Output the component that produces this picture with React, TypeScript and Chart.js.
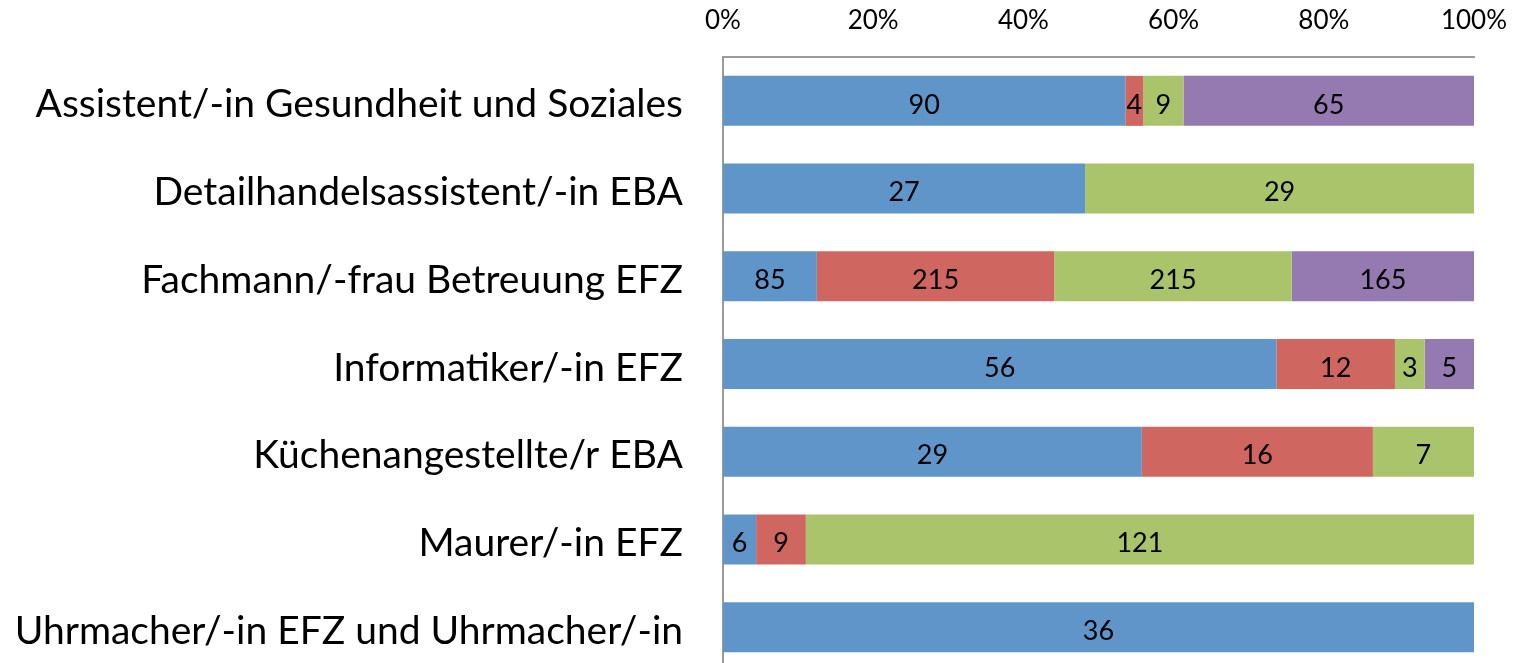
import React, { useEffect, useRef } from "react";
import { Chart, registerables } from "chart.js";

Chart.register(...registerables);

const categories = [
  "Assistent/-in Gesundheit und Soziales",
  "Detailhandelsassistent/-in EBA",
  "Fachmann/-frau Betreuung EFZ",
  "Informatiker/-in EFZ",
  "Küchenangestellte/r EBA",
  "Maurer/-in EFZ",
  "Uhrmacher/-in EFZ und Uhrmacher/-in",
];

const seriesA = [90, 27, 85, 56, 29, 6, 36];
const seriesB = [4, 0, 215, 12, 16, 9, 0];
const seriesC = [9, 29, 215, 3, 7, 121, 0];
const seriesD = [65, 0, 165, 5, 0, 0, 0];

const tickLabels = ["0%", "20%", "40%", "60%", "80%", "100%"];

const colors = ["#6095C9", "#CF6660", "#AAC46B", "#947AB0"];

const FONT = "Lato";

export default function App() {
  const ref = useRef<HTMLCanvasElement | null>(null);

  useEffect(() => {
    const canvas = ref.current;
    if (!canvas) return;
    const raw = [seriesA, seriesB, seriesC, seriesD];
    const totals = categories.map((_, i) => raw.reduce((s, arr) => s + arr[i], 0));
    const datasets = raw.map((arr, k) => ({
      label: "S" + (k + 1),
      data: arr.map((v, i) => (v / totals[i]) * 100),
      rawValues: arr,
      backgroundColor: colors[k],
      borderWidth: 0,
      categoryPercentage: 1,
      barPercentage: 0.57,
    }));

    const labelPlugin = {
      id: "segLabels",
      afterDatasetsDraw(chart: any) {
        const ctx = chart.ctx;
        ctx.save();
        ctx.fillStyle = "#000";
        ctx.font = `27px ${FONT}`;
        ctx.textAlign = "center";
        ctx.textBaseline = "middle";
        chart.data.datasets.forEach((ds: any, di: number) => {
          const meta = chart.getDatasetMeta(di);
          meta.data.forEach((el: any, i: number) => {
            const v = ds.rawValues[i];
            if (!v) return;
            const p = el.getProps(["x", "y", "base"], true);
            ctx.fillText(String(v), (p.x + p.base) / 2, p.y + 4);
          });
        });
        ctx.restore();
      },
    };

    const chart = new Chart(canvas, {
      type: "bar",
      data: { labels: categories, datasets: datasets as any },
      options: {
        indexAxis: "y",
        responsive: false,
        maintainAspectRatio: false,
        animation: false,
        layout: { padding: { left: 0, right: 53, top: 0, bottom: 1 } },
        plugins: { legend: { display: false }, tooltip: { enabled: false } },
        scales: {
          x: {
            position: "top",
            stacked: true,
            min: 0,
            max: 100,
            grid: { display: false, drawTicks: true, tickLength: 21 },
            border: { display: true, color: "#9A9A9A", width: 2 },
            ticks: {
              stepSize: 20,
              padding: 0,
              color: "#000",
              font: { family: FONT, size: 26 },
              callback: (_v: any, idx: number) => tickLabels[idx],
            },
            afterFit: (s: any) => {
              s.height = 57;
              s.paddingLeft = 0;
              s.paddingRight = 0;
              s.paddingTop = 0;
              s.paddingBottom = 0;
            },
          },
          y: {
            stacked: true,
            grid: { display: false, drawTicks: true, tickLength: 40 },
            border: { display: true, color: "#9A9A9A", width: 2 },
            ticks: {
              padding: 0,
              labelOffset: 4,
              color: "#000",
              font: { family: FONT, size: 39 },
            },
            afterFit: (s: any) => {
              s.width = 723;
              s.paddingLeft = 0;
              s.paddingRight = 0;
              s.paddingTop = 0;
              s.paddingBottom = 0;
            },
          },
        },
      },
      plugins: [labelPlugin],
    });
    return () => chart.destroy();
  }, []);

  return (
    <div style={{ position: "fixed", left: 0, top: 0, width: 1527, height: 663, overflow: "hidden", background: "#fff" }}>
      <canvas ref={ref} width={1527} height={672} style={{ display: "block", width: 1527, height: 672 }} />
    </div>
  );
}
